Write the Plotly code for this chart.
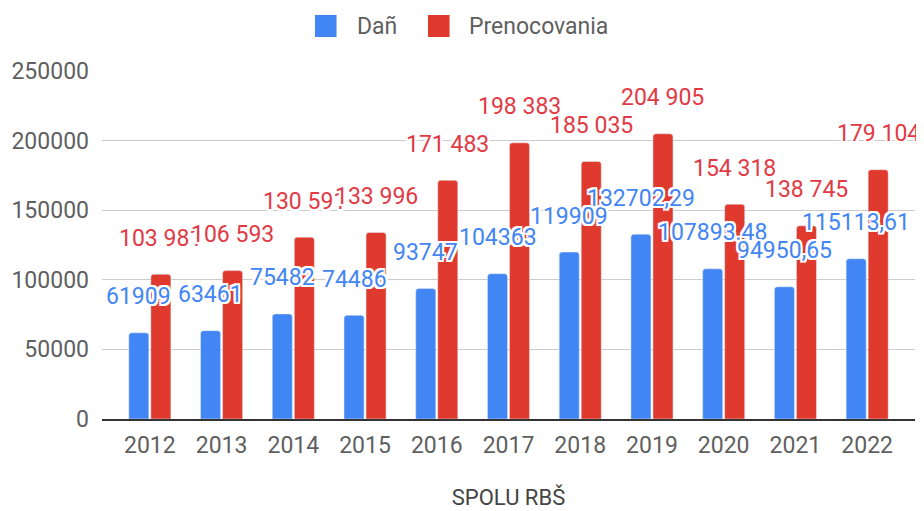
import plotly.graph_objects as go

years = ["2012", "2013", "2014", "2015", "2016", "2017", "2018", "2019", "2020", "2021", "2022"]
dan = [61909, 63461, 75482, 74486, 93747, 104363, 119909, 132702.29, 107893.48, 94950.65, 115113.61]
prenocovania = [103981, 106593, 130591, 133996, 171483, 198383, 185035, 204905, 154318, 138745, 179104]
dan_labels = ["61909", "63461", "75482", "74486", "93747", "104363", "119909",
              "132702,29", "107893.48", "94950,65", "115113,61"]
prenoc_labels = ["103 981", "106 593", "130 591", "133 996", "171 483", "198 383",
                 "185 035", "204 905", "154 318", "138 745", "179 104"]
series_names = ["Dañ", "Prenocovania"]
y_ticks = [0, 50000, 100000, 150000, 200000, 250000]

BLUE = "#4285F4"
RED_BAR = "#E0392E"
RED_TXT = "#E23A45"
FONT = "Roboto"
GREY = "#5f5f5f"

fig = go.Figure()
fig.add_trace(go.Bar(x=years, y=dan, name=series_names[0], marker=dict(color=BLUE)))
fig.add_trace(go.Bar(x=years, y=prenocovania, name=series_names[1], marker=dict(color=RED_BAR)))

halo = ("2px 0 0 #fff, -2px 0 0 #fff, 0 2px 0 #fff, 0 -2px 0 #fff, "
        "2px 2px 0 #fff, -2px -2px 0 #fff, 2px -2px 0 #fff, -2px 2px 0 #fff")
for i in range(len(years)):
    fig.add_annotation(x=i, y=dan[i], text=dan_labels[i], showarrow=False,
                       xshift=-11, yshift=36,
                       font=dict(family=FONT, size=23, color=BLUE, shadow=halo))
    fig.add_annotation(x=i, y=prenocovania[i], text=prenoc_labels[i], showarrow=False,
                       xshift=11, yshift=36,
                       font=dict(family=FONT, size=23, color=RED_TXT, shadow=halo))

# manual legend (large swatches like the reference)
legend_items = [(series_names[0], BLUE, 0.2620, 0.3112), (series_names[1], RED_BAR, 0.4010, 0.4490)]
for name, col, sx, tx in legend_items:
    fig.add_shape(type="rect", xref="paper", yref="paper", x0=sx, x1=sx + 0.0265,
                  y0=1.0977, y1=1.1609, fillcolor=col, line=dict(width=0), layer="above")
    fig.add_annotation(x=tx, y=1.1293, xref="paper", yref="paper", text=name, showarrow=False,
                       xanchor="left", yanchor="middle",
                       font=dict(family=FONT, size=23, color=GREY))

fig.update_layout(
    width=924, height=511,
    margin=dict(l=94, r=17, t=63, b=100, autoexpand=False),
    paper_bgcolor="white", plot_bgcolor="white",
    barmode="group", bargap=0.386, bargroupgap=0.09, barcornerradius=3,
    font=dict(family=FONT, color=GREY, size=23),
    showlegend=False,
    xaxis=dict(type="category", range=[-0.667, 10.667], showgrid=False, automargin=False,
               showline=True, linecolor="#333", linewidth=2, ticks="", ticklabelstandoff=4,
               tickfont=dict(family=FONT, size=23, color=GREY),
               title=dict(text="SPOLU RBŠ", font=dict(family=FONT, size=22, color="#444"), standoff=32)),
    yaxis=dict(range=[0, 250000], tickvals=y_ticks, ticktext=[str(v) for v in y_ticks],
               showgrid=True, gridcolor="#cccccc", gridwidth=1, zeroline=False, automargin=False,
               ticks="", ticklabelstandoff=12,
               tickfont=dict(family=FONT, size=23, color=GREY)),
)

fig.write_html("out.html")
